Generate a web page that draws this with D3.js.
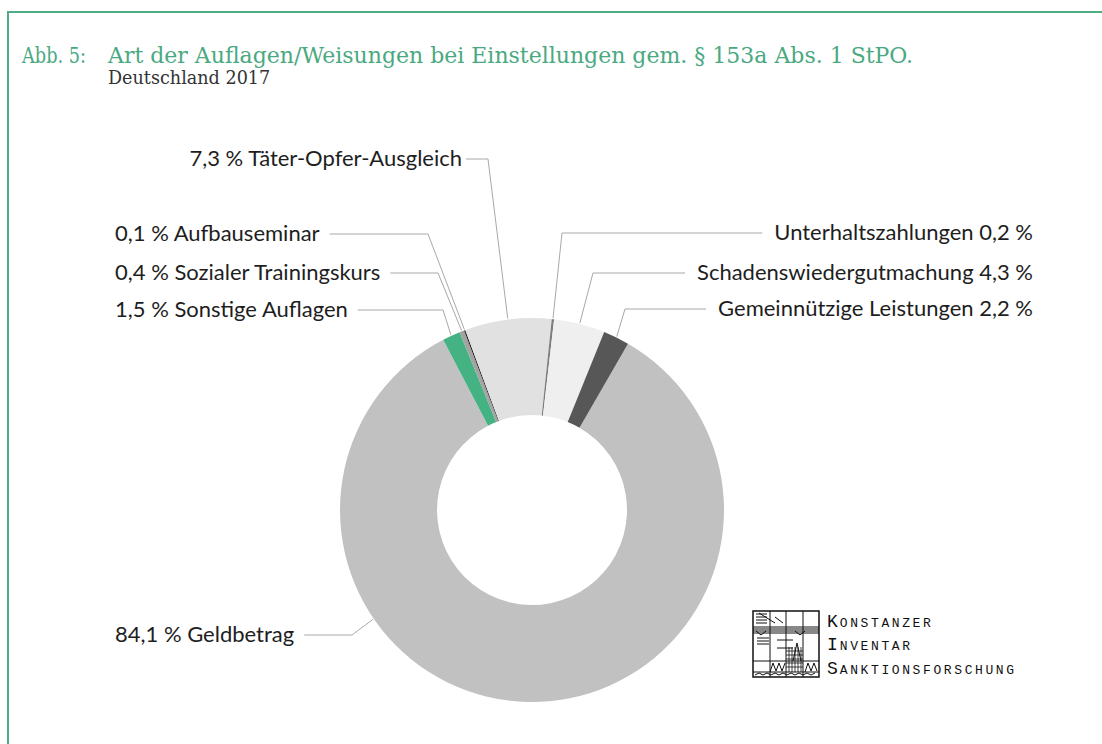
<!DOCTYPE html>
<html>
<head>
<meta charset="utf-8">
<script src="https://cdn.jsdelivr.net/npm/d3@7"></script>
<style>
  body { margin: 0; background: #fff; }
  svg { display: block; }
  .lbl { font-family: Lato, "Noto Sans", sans-serif; font-size: 22px; fill: #1e1e1e; }
  .leader { stroke: #a8a8a8; stroke-width: 1; fill: none; }
</style>
</head>
<body>
<div id="chart"></div>
<script>
// data
var categories = ["Geldbetrag", "Sonstige Auflagen", "Sozialer Trainingskurs", "Aufbauseminar",
                  "Täter-Opfer-Ausgleich", "Unterhaltszahlungen", "Schadenswiedergutmachung", "Gemeinnützige Leistungen"];
var values = [84.1, 1.5, 0.4, 0.1, 7.3, 0.2, 4.3, 2.2];
var colours = ["#c1c1c1", "#45b283", "#a3a3a3", "#1a1a1a", "#e1e1e1", "#7d7d7d", "#efefef", "#575757"];

// label placement (side, text y, knee x of the leader)
var labelLayout = [
  {side: "left",  x: 115, y: 634, knee: 352, angle: 235.5},
  {side: "left",  x: 115, y: 309, knee: 443},
  {side: "left",  x: 115, y: 272, knee: 438},
  {side: "left",  x: 115, y: 233, knee: 428},
  {side: "leftEnd", x: 462, y: 158, knee: 488},
  {side: "right", x: 1033, y: 232, knee: 562},
  {side: "right", x: 1033, y: 272, knee: 593},
  {side: "right", x: 1033, y: 308, knee: 625}
];

var width = 1102,
    height = 744;
var cx = 532, cy = 510,
    outerR = 192, innerR = 95;

var fmt = function(v) { return d3.format(".1f")(v).replace(".", ","); };

var svg = d3.select("#chart")
    .append("svg")
    .attr("width", width)
    .attr("height", height);

// frame: only top and left sides
svg.append("line")
    .attr("x1", 7).attr("y1", 12).attr("x2", width).attr("y2", 12)
    .attr("stroke", "#4fad86").attr("stroke-width", 2);
svg.append("line")
    .attr("x1", 8).attr("y1", 11).attr("x2", 8).attr("y2", height)
    .attr("stroke", "#4fad86").attr("stroke-width", 2);

// title
svg.append("text")
    .attr("x", 22).attr("y", 63)
    .attr("textLength", 64)
    .attr("lengthAdjust", "spacingAndGlyphs")
    .style("font-family", "'DejaVu Serif', serif")
    .style("font-size", "22px")
    .style("fill", "#4aa981")
    .text("Abb. 5:");
svg.append("text")
    .attr("x", 108).attr("y", 63)
    .style("font-family", "'DejaVu Serif', serif")
    .style("font-size", "22px")
    .style("fill", "#4aa981")
    .text("Art der Auflagen/Weisungen bei Einstellungen gem. § 153a Abs. 1 StPO.");
svg.append("text")
    .attr("x", 108).attr("y", 84)
    .style("font-family", "'DejaVu Serif', serif")
    .style("font-size", "17.6px")
    .style("fill", "#333")
    .text("Deutschland 2017");

// donut
var pie = d3.pie()
    .sort(null)
    .startAngle(30 * Math.PI / 180)
    .endAngle(30 * Math.PI / 180 + 2 * Math.PI)
    .value(function(d) { return d; });

var arcs = pie(values);

var arc = d3.arc()
    .innerRadius(innerR)
    .outerRadius(outerR);

var g = svg.append("g")
    .attr("transform", "translate(" + cx + "," + cy + ")");

g.selectAll("path")
    .data(arcs)
    .enter().append("path")
    .attr("d", arc)
    .attr("fill", function(d, i) { return colours[i]; });

// labels + leader lines
var labels = svg.append("g");
arcs.forEach(function(a, i) {
  var lay = labelLayout[i];
  var ang = lay.angle !== undefined ? lay.angle * Math.PI / 180 : (a.startAngle + a.endAngle) / 2;
  var px = cx + Math.sin(ang) * (outerR + 1),
      py = cy - Math.cos(ang) * (outerR + 1);
  var txt;
  if (lay.side === "right") {
    txt = categories[i] + " " + fmt(values[i]) + " %";
  } else {
    txt = fmt(values[i]) + " % " + categories[i];
  }
  var t = labels.append("text")
      .attr("class", "lbl")
      .attr("x", lay.x)
      .attr("y", lay.y)
      .attr("dy", "0.35em")
      .attr("text-anchor", lay.side === "left" ? "start" : "end")
      .text(txt);
  var w = t.node().getComputedTextLength();
  var lineX;
  if (lay.side === "left") lineX = lay.x + w + 10;
  else if (lay.side === "leftEnd") lineX = lay.x + 4;
  else lineX = lay.x - w - 12;
  var ly = lay.y + 1;
  labels.append("path")
      .attr("class", "leader")
      .attr("d", d3.line()([[lineX, ly], [lay.knee, ly], [px, py]]));
});

// KIS logo
var logo = svg.append("g").attr("transform", "translate(753,611)");
logo.append("rect")
    .attr("width", 66).attr("height", 66)
    .attr("fill", "none").attr("stroke", "#111").attr("stroke-width", 1.5);
var gx = [17, 33, 50], gy = [16, 22, 50, 61];
gx.forEach(function(x) {
  logo.append("line").attr("x1", x).attr("y1", 0).attr("x2", x).attr("y2", 66)
      .attr("stroke", "#111").attr("stroke-width", 1);
});
gy.forEach(function(y) {
  logo.append("line").attr("x1", 0).attr("y1", y).attr("x2", 66).attr("y2", y)
      .attr("stroke", "#111").attr("stroke-width", 1);
});
logo.append("path")
    .attr("d", "M3,3 L14,3 M3,6 L14,6 M3,9 L14,9 M3,12 L14,12 M6,2 L22,12 M22,6 L30,12 M4,27 L16,27 M4,30 L16,30 M4,33 L16,33 M0,18 L66,18 M0,20 L66,20 M24,29 L40,29 M24,37 L40,37")
    .attr("stroke", "#111").attr("stroke-width", 1).attr("fill", "none");
logo.append("path")
    .attr("d", "M17,61 L20,52 L23,60 L26,52 L29,60 L32,52 M52,61 L55,52 L58,60 L61,52 L64,60 M2,64 L6,62 L10,64 L14,62 L18,64 L22,62 L26,64 L30,62 L34,64 L38,62 L42,64 L46,62 L50,64 L54,62 L58,64 L62,62 M40,50 L44,32 L48,50 M3,20 L8,24 L13,20 M42,20 L47,24 L52,20")
    .attr("stroke", "#111").attr("stroke-width", 1).attr("fill", "none");
[36, 39, 42, 45, 48].forEach(function(x) {
  logo.append("line").attr("x1", x).attr("y1", 36).attr("x2", x).attr("y2", 61)
      .attr("stroke", "#111").attr("stroke-width", 0.8);
});
[40, 44, 48, 52, 56].forEach(function(y) {
  logo.append("line").attr("x1", 33).attr("y1", y).attr("x2", 50).attr("y2", y)
      .attr("stroke", "#111").attr("stroke-width", 0.8);
});

var logoWords = ["KONSTANZER", "INVENTAR", "SANKTIONSFORSCHUNG"];
var logoY = [627, 650, 674];
logoWords.forEach(function(w, i) {
  var t = svg.append("text")
      .attr("x", 827).attr("y", logoY[i])
      .style("font-family", "'Liberation Mono', 'DejaVu Sans Mono', monospace")
      .style("fill", "#111");
  t.append("tspan").style("font-size", "18px").style("letter-spacing", "2px").text(w.charAt(0));
  t.append("tspan").style("font-size", "13px").style("letter-spacing", "2.6px").text(w.slice(1));
});
</script>
</body>
</html>
